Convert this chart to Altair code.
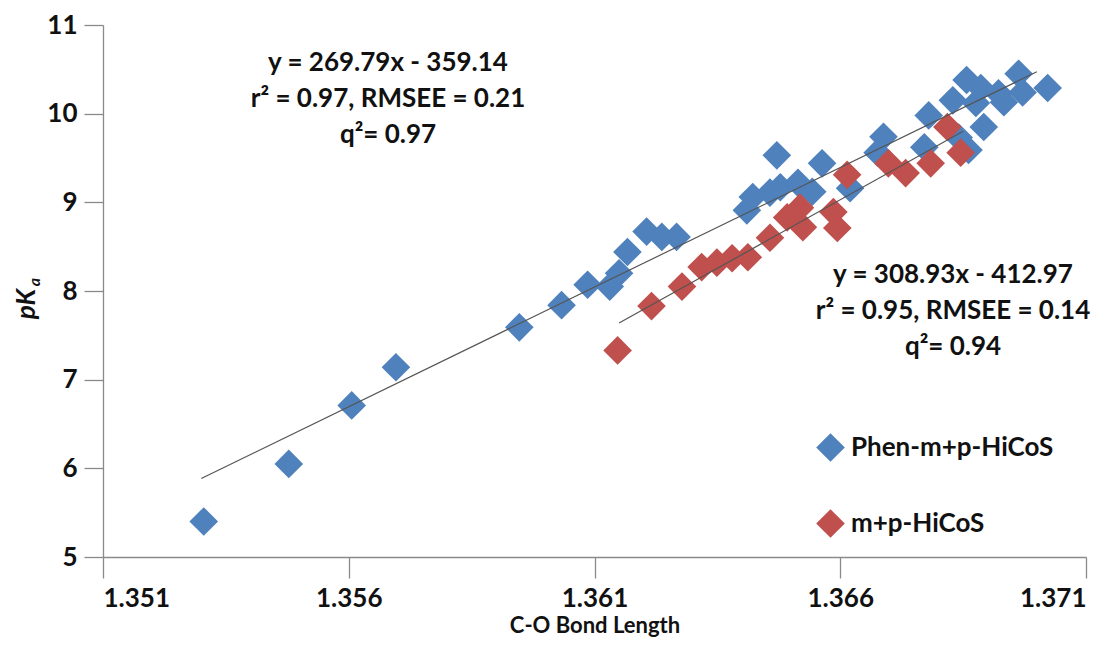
import altair as alt
import pandas as pd

# ---- data ----
series_names = ["Phen-m+p-HiCoS", "m+p-HiCoS"]
series_colors = ["#4F81BD", "#C0504D"]

blue_x = [1.35305, 1.35478, 1.35606, 1.35696, 1.35947, 1.36033, 1.36086, 1.36131,
          1.36150, 1.36167, 1.36206, 1.36237, 1.36267, 1.36410, 1.36422, 1.36457,
          1.36471, 1.36478, 1.36514, 1.36543, 1.36563, 1.36620, 1.36676, 1.36688,
          1.36771, 1.36780, 1.36829, 1.36841, 1.36857, 1.36861, 1.36876, 1.36886,
          1.36892, 1.36922, 1.36933, 1.36963, 1.36971, 1.37022]
blue_y = [5.40, 6.05, 6.71, 7.14, 7.59, 7.84, 8.07, 8.05,
          8.20, 8.44, 8.67, 8.61, 8.61, 8.91, 9.06, 9.11,
          9.53, 9.17, 9.22, 9.12, 9.44, 9.16, 9.56, 9.74,
          9.62, 9.98, 10.15, 9.73, 10.38, 9.59, 10.12, 10.29,
          9.85, 10.23, 10.13, 10.45, 10.24, 10.29]

red_x = [1.36147, 1.36216, 1.36278, 1.36318, 1.36349, 1.36380, 1.36412, 1.36457,
         1.36492, 1.36518, 1.36524, 1.36586, 1.36594, 1.36614, 1.36698, 1.36733,
         1.36784, 1.36818, 1.36845]
red_y = [7.33, 7.83, 8.05, 8.27, 8.32, 8.37, 8.38, 8.60,
         8.83, 8.94, 8.72, 8.89, 8.71, 9.31, 9.44, 9.33,
         9.44, 9.85, 9.56]

fit_slope = [269.79, 308.93]
fit_intercept = [-359.14, -412.97]
fit_x_start = [1.3530, 1.3615]
fit_x_end = [1.3700, 1.3685]

annot_blue = ["y = 269.79x - 359.14", "r\u00b2 = 0.97, RMSEE = 0.21", "q\u00b2= 0.97"]
annot_red = ["y = 308.93x - 412.97", "r\u00b2 = 0.95, RMSEE = 0.14", "q\u00b2= 0.94"]

x_ticks = [1.351, 1.356, 1.361, 1.366, 1.371]
y_ticks = [5, 6, 7, 8, 9, 10, 11]

x_title = "C-O Bond Length"
y_title_main = "pK"
y_title_sub = "a"

# ---- tables ----
pts = pd.concat([
    pd.DataFrame({"x": blue_x, "y": blue_y, "series": series_names[0]}),
    pd.DataFrame({"x": red_x, "y": red_y, "series": series_names[1]}),
], ignore_index=True)
pts["order"] = range(len(pts))

fit_rows = []
for i, name in enumerate(series_names):
    for xv in (fit_x_start[i], fit_x_end[i]):
        fit_rows.append({"series": name, "x": xv, "y": fit_slope[i] * xv + fit_intercept[i]})
fits = pd.DataFrame(fit_rows)

FONT = "Lato"
FS = 26
W, H = 983, 532

xscale = alt.Scale(domain=[1.351, 1.371], nice=False, zero=False)
yscale = alt.Scale(domain=[5, 11], nice=False, zero=False)

points = alt.Chart(pts).mark_point(shape="diamond", filled=True, size=820, opacity=1, strokeWidth=0).encode(
    x=alt.X("x:Q", scale=xscale,
            axis=alt.Axis(values=x_ticks, format=".3f", title=x_title, titleFontSize=22,
                          tickSize=21, labelPadding=7, titleY=68, titleBaseline="middle")),
    y=alt.Y("y:Q", scale=yscale,
            axis=alt.Axis(values=y_ticks, format="d", title=None,
                          tickSize=19, labelPadding=7)),
    color=alt.Color("series:N", scale=alt.Scale(domain=series_names, range=series_colors),
                    legend=alt.Legend(title=None, orient="none", legendX=713, legendY=408,
                                      symbolType="diamond", symbolSize=820, symbolStrokeWidth=0,
                                      symbolOpacity=1, rowPadding=47, labelOffset=6,
                                      labelFontSize=FS, labelFont=FONT, labelFontWeight="bold",
                                      labelColor="#111", labelLimit=400, padding=0)),
    order=alt.Order("order:Q"),
)

lines = alt.Chart(fits).mark_line(color="#555555", strokeWidth=1.2).encode(
    x=alt.X("x:Q", scale=xscale),
    y=alt.Y("y:Q", scale=yscale),
    detail="series:N",
)

def annotation(lines_, cx, cy):
    return alt.Chart(pd.DataFrame({"t": [lines_]})).mark_text(
        font=FONT, fontSize=FS, fontWeight="bold", color="#111", align="center",
        baseline="middle", lineHeight=36,
    ).encode(text="t", x=alt.value(cx), y=alt.value(cy))

ann1 = annotation(annot_blue, 285, 38)
ann2 = annotation(annot_red, 850, 250)

ytitle_main = alt.Chart(pd.DataFrame({"t": [y_title_main]})).mark_text(
    font=FONT, fontSize=FS, fontWeight="bold", fontStyle="italic", color="#111",
    angle=270, align="center", baseline="middle",
).encode(text="t", x=alt.value(-76), y=alt.value(279))

ytitle_sub = alt.Chart(pd.DataFrame({"t": [y_title_sub]})).mark_text(
    font=FONT, fontSize=16, fontWeight="bold", fontStyle="italic", color="#111",
    angle=270, align="center", baseline="middle",
).encode(text="t", x=alt.value(-68), y=alt.value(257))

chart = alt.layer(points, lines, ann1, ann2, ytitle_main, ytitle_sub).properties(
    width=W, height=H,
    padding={"left": 95, "top": 17, "right": 22, "bottom": 82},
    autosize=alt.AutoSizeParams(type="none"),
).configure_view(stroke=None).configure_axis(
    grid=False,
    domainColor="#8a8a8a", domainWidth=1.3,
    tickColor="#8a8a8a", tickWidth=1.3,
    labelFont=FONT, labelFontSize=FS, labelFontWeight="bold", labelColor="#111",
    titleFont=FONT, titleFontSize=FS, titleFontWeight="bold", titleColor="#111",
)

chart.save("out.html", embed_options={"renderer": "svg", "actions": False})
